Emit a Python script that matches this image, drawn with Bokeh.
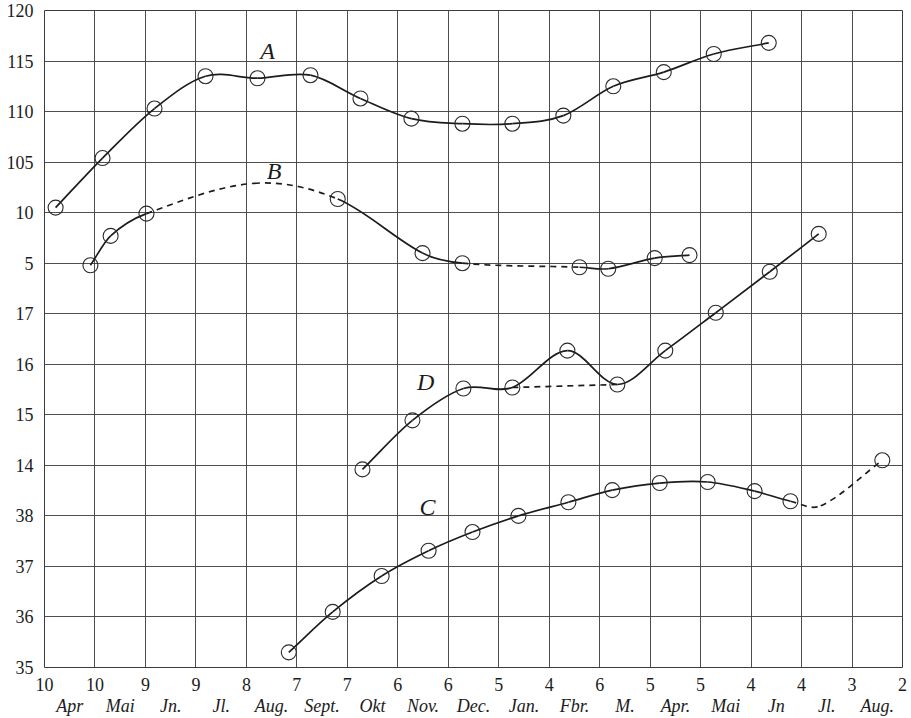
from bokeh.plotting import figure
from bokeh.models import Range1d, LinearAxis, FixedTicker, ColumnDataSource, Label
from bokeh.embed import file_html
from bokeh.resources import INLINE

# ---------------- data ----------------
# x: index of the vertical grid line (0..17); day numbers written under each line
day_labels = ["10", "10", "9", "9", "8", "7", "7", "6", "6", "5", "4", "6",
              "5", "5", "4", "4", "3", "2"]
month_labels = ["Apr", "Mai", "Jn.", "Jl.", "Aug.", "Sept.", "Okt", "Nov.", "Dec.",
                "Jan.", "Fbr.", "M.", "Apr.", "Mai", "Jn", "Jl.", "Aug."]
y_tick_labels = ["35", "36", "37", "38", "14", "15", "16", "17", "5", "10",
                 "105", "110", "115", "120"]

# Curve A (scale 95..120)
A_x = [0.22, 1.15, 2.18, 3.19, 4.22, 5.27, 6.26, 7.27, 8.28, 9.27, 10.28, 11.27, 12.27, 13.26, 14.35]
A_y = [100.5, 105.4, 110.3, 113.5, 113.3, 113.6, 111.3, 109.3, 108.8, 108.8, 109.6, 112.5, 113.9, 115.7, 116.8]
A_mark = [1] * 15
A_dashed = []

# Curve B (same scale as A); the 4th value is the unmarked crest of the dashed arc
B_x = [0.91, 1.31, 2.02, 4.15, 5.81, 7.49, 8.28, 10.60, 11.17, 12.09, 12.78]
B_y = [94.8, 97.7, 99.9, 102.9, 101.35, 96.0, 95.0, 94.6, 94.45, 95.5, 95.8]
B_mark = [1, 1, 1, 0, 1, 1, 1, 1, 1, 1, 1]
B_dashed = [2, 3, 6]          # segment i joins point i and i+1

# Curve D (scale 14..17)
D_x = [6.30, 7.29, 8.30, 9.27, 10.36, 11.35, 12.30, 13.30, 14.37, 15.34]
D_y = [13.92, 14.89, 15.52, 15.54, 16.27, 15.60, 16.27, 17.02, 17.83, 18.58]
D_mark = [1] * 10
D_dashed = []
D_bypass = (3, 5)             # dashed straight link that skips the hump

# Curve C (scale 35..38); index 12 is the unmarked low point of the dashed end
C_x = [4.84, 5.71, 6.68, 7.61, 8.48, 9.39, 10.38, 11.25, 12.19, 13.14, 14.07, 14.78, 15.38, 16.60]
C_y = [35.30, 36.10, 36.81, 37.31, 37.68, 38.00, 38.27, 38.51, 38.65, 38.67, 38.49, 38.29, 38.20, 39.10]
C_mark = [1] * 12 + [0, 1]
C_dashed = [11, 12]

# curve letters: (text, x, y in the curve's own scale)
curve_names = [("A", 4.42, 116.0, "ab"), ("B", 4.55, 104.1, "ab"),
               ("D", 7.55, 15.64, "d"), ("C", 7.59, 38.18, "c")]

# ---------------- figure ----------------
INK = "#1c1c1c"
GRID = "#3c3c3c"
SERIF = "Liberation Serif"

p = figure(width=911, height=718, output_backend="svg", toolbar_location=None,
           x_range=Range1d(0, 17), y_range=Range1d(0, 13),
           min_border_left=44, min_border_right=9, min_border_top=10, min_border_bottom=50,
           background_fill_color="white", border_fill_color="white")
p.extra_y_ranges = {"ab": Range1d(55, 120), "d": Range1d(10, 23), "c": Range1d(35, 48)}
p.outline_line_color = GRID
p.outline_line_width = 1

# grid
p.xgrid.ticker = FixedTicker(ticks=list(range(len(day_labels))))
p.ygrid.ticker = FixedTicker(ticks=list(range(len(y_tick_labels))))
p.grid.grid_line_color = GRID
p.grid.grid_line_width = 1
p.grid.grid_line_alpha = 0.9

# x axis: day numbers on the lines
xa = p.xaxis[0]
xa.ticker = FixedTicker(ticks=list(range(len(day_labels))))
xa.major_label_overrides = {i: s for i, s in enumerate(day_labels)}
# y axis
ya = p.yaxis[0]
ya.ticker = FixedTicker(ticks=list(range(len(y_tick_labels))))
ya.major_label_overrides = {i: s for i, s in enumerate(y_tick_labels)}

for ax in (xa, ya):
    ax.axis_line_color = None
    ax.major_tick_line_color = None
    ax.minor_tick_line_color = None
    ax.major_label_text_font = SERIF
    ax.major_label_text_font_size = "18px"
    ax.major_label_text_color = INK
xa.major_label_standoff = 4
xa.major_label_text_line_height = 1.0
ya.major_label_standoff = 5

# month names between the lines
ma = LinearAxis(ticker=FixedTicker(ticks=[i + 0.5 for i in range(len(month_labels))]),
                major_label_overrides={i + 0.5: s for i, s in enumerate(month_labels)})
ma.axis_line_color = None
ma.major_tick_line_color = None
ma.minor_tick_line_color = None
ma.major_label_standoff = -4
ma.major_label_text_font = SERIF
ma.major_label_text_font_style = "italic"
ma.major_label_text_font_size = "18px"
ma.major_label_text_color = INK
p.add_layout(ma, "below")


def smooth_segments(xs, ys):
    """cubic Bezier pieces through the points (tangent = neighbour secant)."""
    n = len(xs)
    m = []
    for i in range(n):
        if i == 0:
            m.append((ys[1] - ys[0]) / (xs[1] - xs[0]))
        elif i == n - 1:
            m.append((ys[-1] - ys[-2]) / (xs[-1] - xs[-2]))
        else:
            m.append((ys[i + 1] - ys[i - 1]) / (xs[i + 1] - xs[i - 1]))
    segs = []
    for i in range(n - 1):
        h = (xs[i + 1] - xs[i]) / 3.0
        segs.append((xs[i], ys[i], xs[i + 1], ys[i + 1],
                     xs[i] + h, ys[i] + m[i] * h, xs[i + 1] - h, ys[i + 1] - m[i + 1] * h))
    return segs


def draw_curve(xs, ys, marks, dashed, rng):
    segs = smooth_segments(xs, ys)
    for want_dash in (False, True):
        chosen = [s for i, s in enumerate(segs) if (i in dashed) == want_dash]
        if not chosen:
            continue
        cols = list(zip(*chosen))
        src = ColumnDataSource(dict(x0=cols[0], y0=cols[1], x1=cols[2], y1=cols[3],
                                    cx0=cols[4], cy0=cols[5], cx1=cols[6], cy1=cols[7]))
        p.bezier(x0="x0", y0="y0", x1="x1", y1="y1", cx0="cx0", cy0="cy0",
                 cx1="cx1", cy1="cy1", source=src, y_range_name=rng,
                 line_color=INK, line_width=1.7,
                 line_dash="6 5" if want_dash else "solid")
    mx = [x for x, k in zip(xs, marks) if k]
    my = [y for y, k in zip(ys, marks) if k]
    p.scatter(mx, my, marker="circle", size=15, fill_color=None,
              line_color="#2a2a2a", line_width=1.1, y_range_name=rng)


draw_curve(A_x, A_y, A_mark, A_dashed, "ab")
draw_curve(B_x, B_y, B_mark, B_dashed, "ab")
draw_curve(D_x, D_y, D_mark, D_dashed, "d")
draw_curve(C_x, C_y, C_mark, C_dashed, "c")

# dashed straight link on D
i0, i1 = D_bypass
p.line([D_x[i0], D_x[i1]], [D_y[i0], D_y[i1]], y_range_name="d",
       line_color=INK, line_width=1.7, line_dash="6 5")

for txt, lx, ly, rng in curve_names:
    p.add_layout(Label(x=lx, y=ly, y_range_name=rng, text=txt,
                       text_font=SERIF, text_font_style="italic",
                       text_font_size="24px", text_color=INK,
                       text_align="center", text_baseline="middle"))

open("out.html", "w").write(file_html(p, INLINE))
